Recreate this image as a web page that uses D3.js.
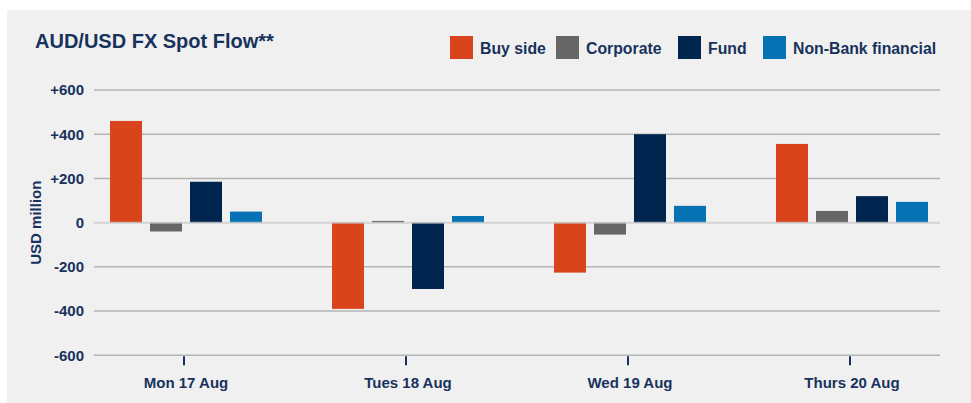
<!DOCTYPE html>
<html>
<head>
<meta charset="utf-8">
<script src="https://cdn.jsdelivr.net/npm/d3@7"></script>
<style>
  html, body { margin: 0; padding: 0; background: #fff; }
  svg { display: block; font-family: "Liberation Sans", Arial, sans-serif; }
</style>
</head>
<body>
<div id="chart"></div>
<script>
(function () {
    // data
    const days = ["Mon 17 Aug", "Tues 18 Aug", "Wed 19 Aug", "Thurs 20 Aug"];
    const seriesNames = ["Buy side", "Corporate", "Fund", "Non-Bank financial"];
    const buySide = [460, -390, -226, 356];
    const corporate = [-40, 8, -54, 53];
    const fund = [185, -300, 400, 120];
    const nonBank = [50, 30, 76, 94];
    const yTicks = [600, 400, 200, 0, -200, -400, -600];
    const tickLabels = ["+600", "+400", "+200", "0", "-200", "-400", "-600"];

    const colors = ["#d9441c", "#666666", "#00264f", "#0672b4"];
    const textColor = "#17325c";

    const seriesValues = [buySide, corporate, fund, nonBank];
    const rows = days.map((d, i) => ({
        day: d,
        values: seriesNames.map((s, j) => ({ name: s, value: seriesValues[j][i], color: colors[j] }))
    }));

    const width = 971, height = 403;
    const svg = d3.select("#chart").append("svg")
        .attr("width", width)
        .attr("height", height);

    // panel background
    svg.append("rect")
        .attr("x", 7).attr("y", 10)
        .attr("width", width - 7).attr("height", height - 10)
        .attr("fill", "#f0f0f0");

    // scales
    const y = d3.scaleLinear().domain([-600, 600]).range([355.3, 90]);
    const x = d3.scaleBand().domain(days).range([75, 963]);
    const xInner = d3.scaleBand().domain(seriesNames).range([35, 187]).paddingInner(0.2);

    const gridX0 = 94, gridX1 = 940;

    // gridlines (except zero)
    svg.append("g").selectAll("line")
        .data(yTicks.filter(t => t !== 0))
        .enter().append("line")
        .attr("x1", gridX0).attr("x2", gridX1)
        .attr("y1", d => y(d)).attr("y2", d => y(d))
        .attr("stroke", "#b4b4b4")
        .attr("stroke-width", 1.5);

    // y tick labels
    svg.append("g").selectAll("text")
        .data(yTicks)
        .enter().append("text")
        .attr("x", 84)
        .attr("y", d => y(d))
        .attr("dy", "0.36em")
        .attr("text-anchor", "end")
        .attr("fill", textColor)
        .style("font-size", "15px")
        .style("font-weight", "bold")
        .text((d, i) => tickLabels[i]);

    // y axis title
    svg.append("text")
        .attr("transform", `translate(41, ${y(0)}) rotate(-90)`)
        .attr("text-anchor", "middle")
        .attr("fill", textColor)
        .style("font-size", "15px")
        .style("font-weight", "bold")
        .text("USD million");

    // bars
    const groups = svg.append("g").selectAll("g")
        .data(rows)
        .enter().append("g")
        .attr("transform", d => `translate(${x(d.day)},0)`);

    groups.selectAll("rect")
        .data(d => d.values)
        .enter().append("rect")
        .attr("x", d => xInner(d.name))
        .attr("width", xInner.bandwidth())
        .attr("y", d => y(Math.max(0, d.value)))
        .attr("height", d => Math.abs(y(d.value) - y(0)))
        .attr("fill", d => d.color);

    // zero line on top
    svg.append("line")
        .attr("x1", gridX0).attr("x2", gridX1)
        .attr("y1", y(0)).attr("y2", y(0))
        .attr("stroke", "#c8c8c8")
        .attr("stroke-opacity", 0.75)
        .attr("stroke-width", 2);

    // x ticks and labels
    const xAxis = svg.append("g");
    xAxis.selectAll("line")
        .data(days)
        .enter().append("line")
        .attr("x1", d => x(d) + x.bandwidth() / 2 - 2)
        .attr("x2", d => x(d) + x.bandwidth() / 2 - 2)
        .attr("y1", y(-600) + 1)
        .attr("y2", y(-600) + 10)
        .attr("stroke", textColor)
        .attr("stroke-width", 2);
    xAxis.selectAll("text")
        .data(days)
        .enter().append("text")
        .attr("x", d => x(d) + x.bandwidth() / 2)
        .attr("y", 388)
        .attr("text-anchor", "middle")
        .attr("fill", textColor)
        .style("font-size", "15px")
        .style("font-weight", "bold")
        .text(d => d);

    // title
    svg.append("text")
        .attr("x", 35).attr("y", 48)
        .attr("fill", textColor)
        .style("font-size", "20px")
        .style("font-weight", "bold")
        .text("AUD/USD FX Spot Flow**");

    // legend
    const legendX = [450, 556, 678, 763];
    const legend = svg.append("g").selectAll("g")
        .data(seriesNames)
        .enter().append("g")
        .attr("transform", (d, i) => `translate(${legendX[i]}, 36)`);
    legend.append("rect")
        .attr("width", 23).attr("height", 23)
        .attr("fill", (d, i) => colors[i]);
    legend.append("text")
        .attr("x", 30).attr("y", 12)
        .attr("dy", "0.36em")
        .attr("fill", textColor)
        .style("font-size", "15.8px")
        .style("font-weight", "bold")
        .text(d => d);
})();
</script>
</body>
</html>
